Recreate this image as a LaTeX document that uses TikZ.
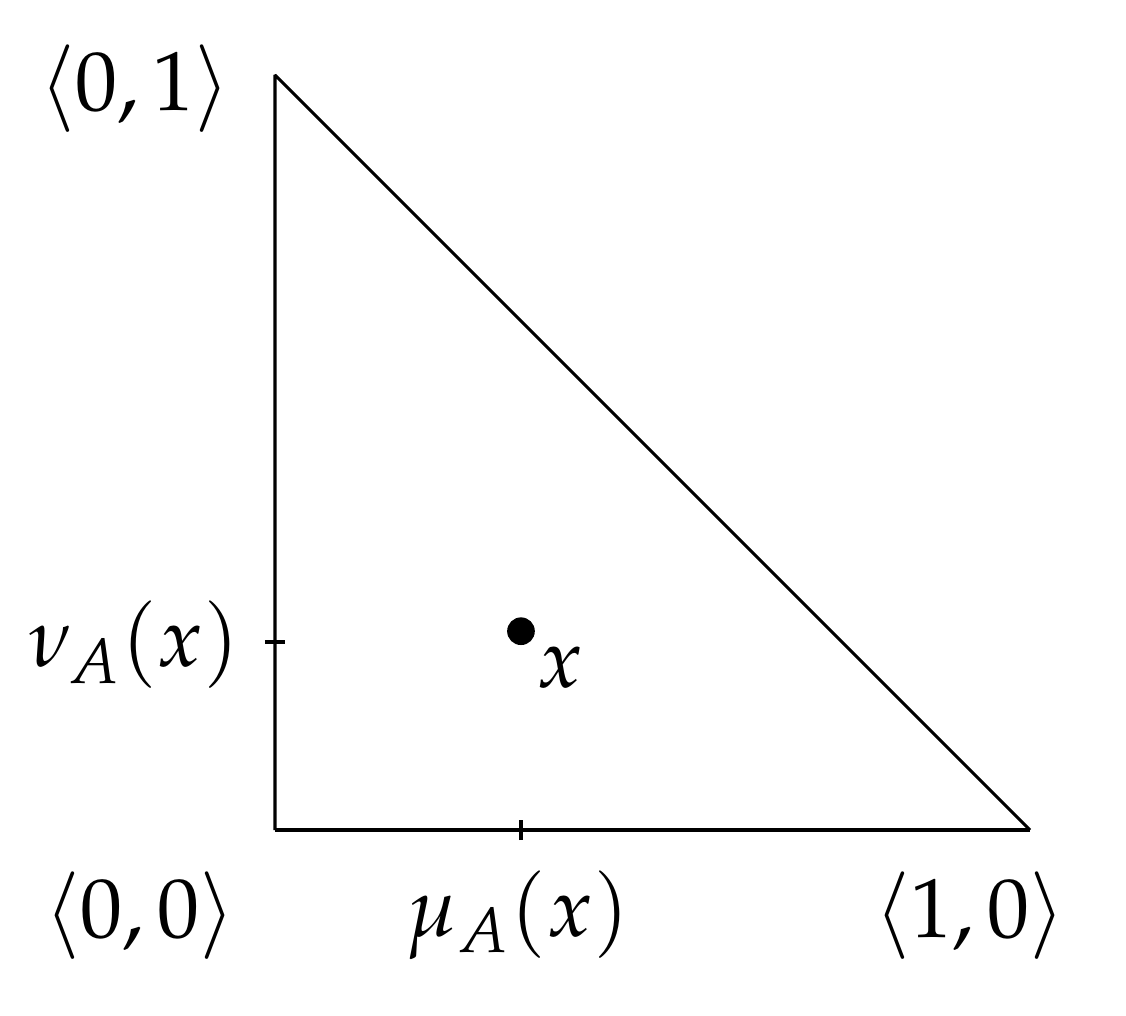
\documentclass[tikz,border=0pt]{standalone}
\usepackage{mathpazo}
\usepackage{tikz}
\usetikzlibrary{positioning}

\begin{document}
\begin{tikzpicture}[line join=bevel,
    every node/.style={font=\fontsize{19}{22}\selectfont},
    edge/.style={line width=.7pt},
    tick/.style={line width=.9pt}]
        \useasboundingbox (-2.185,-1.470) rectangle (6.763,6.596);
        \coordinate (o) at (0,0);
        \coordinate (m) at (6,0);
        \coordinate (n) at (0,6);
        \coordinate (mu) at (1.955,0);
        \coordinate (nu) at (0,1.494);
        \draw[edge, line width=1pt] (o) -- (m);
        \draw[edge] (m) -- (n) -- (o);
        \draw[tick] ([yshift=-.08cm]mu) -- ([yshift=.08cm]mu);
        \draw[tick] ([xshift=-.08cm]nu) -- ([xshift=.08cm]nu);
        \node[circle, fill, inner sep=0pt, minimum size=.22cm] (pt) at (1.955,1.58) {};
        \node (xl) at (2.265,1.287) {$x$};
        \node (lo) at (-1.07,-0.675) {$\langle 0,0\rangle$};
        \node (lm) at (5.52,-0.675) {$\langle 1,0\rangle$};
        \node (ln) at (-1.113,5.897) {$\langle 0,1\rangle$};
        \node (lmu) at (1.93,-0.675) {$\mu_A(x)$};
        \node (lnu) at (-1.12,1.47) {$\nu_A(x)$};
      \end{tikzpicture}
\end{document}
